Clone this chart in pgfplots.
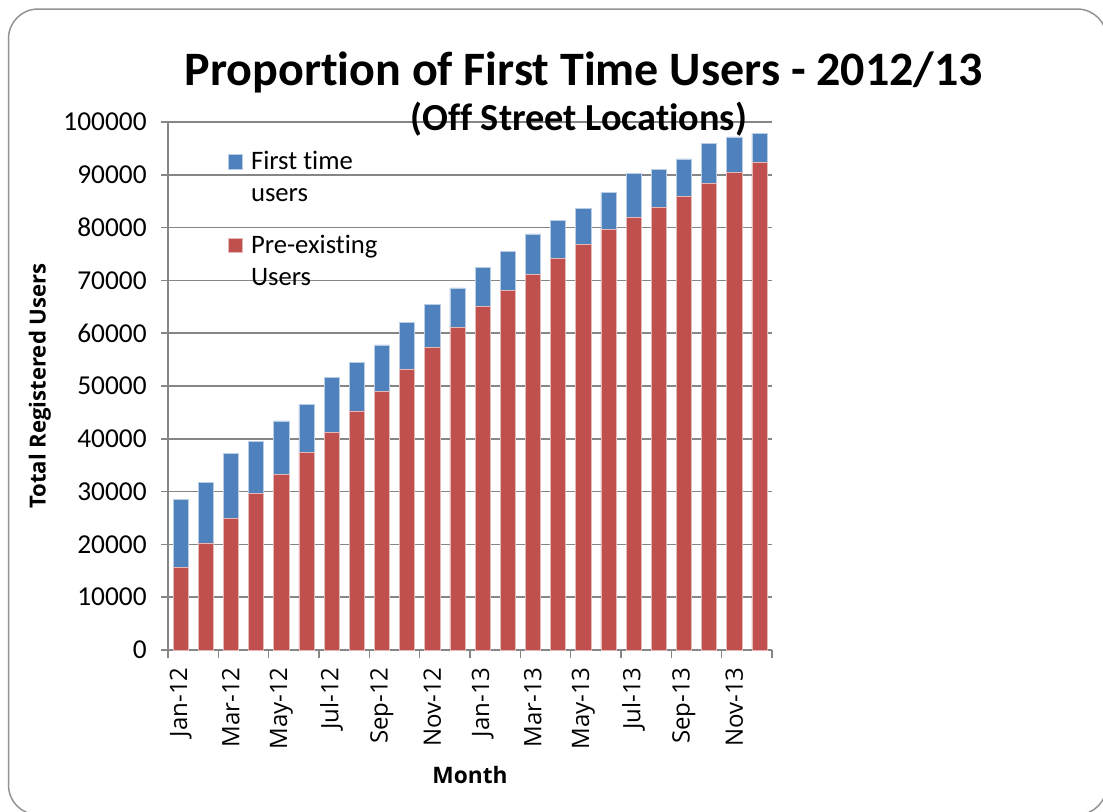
\documentclass[border=0pt]{standalone}
\usepackage{fontspec}
\setmainfont{Carlito}[Ligatures=CommonOff]
\newfontfamily\osans{Open Sans}
\usepackage{pgfplots}
\usepackage{pgfplotstable}
\pgfplotsset{compat=1.18}
\definecolor{fbblue}{HTML}{4F81BD}
\definecolor{fbred}{HTML}{C0504D}
\definecolor{gridgray}{HTML}{868686}

\pgfplotstableread{
x pre first
0 15600 12900
1 20300 11500
2 24900 12400
3 29700 9800
4 33200 10200
5 37400 9100
6 41200 10400
7 45300 9200
8 49000 8800
9 53200 8900
10 57300 8200
11 61100 7500
12 65100 7400
13 68100 7400
14 71200 7600
15 74100 7300
16 76800 6900
17 79700 6900
18 81900 8300
19 83800 7200
20 85900 7100
21 88400 7600
22 90500 6700
23 92300 5500
}\data

\begin{document}
\begin{tikzpicture}
\path[use as bounding box] (0,0) rectangle (827.25pt,-609pt);
\begin{scope}
\clip (0,0) rectangle (827.25pt,-609pt);
\draw[gridgray!90, line width=1.1pt, rounded corners=22pt] (6.4pt,-6.8pt) rectangle (830pt,-611pt);
\end{scope}
\begin{axis}[
  at={(126pt,-487.5pt)}, anchor=south west,
  scale only axis, width=453pt, height=396pt,
  ybar stacked, bar width=11.3pt,
  xmin=-0.5, xmax=23.5, ymin=0, ymax=100000,
  ytick={0,10000,20000,30000,40000,50000,60000,70000,80000,90000,100000},
  yticklabels={0,10000,20000,30000,40000,50000,60000,70000,80000,90000,100000},
  xtick={0,2,...,22},
  xticklabels={Jan-12,Mar-12,May-12,Jul-12,Sep-12,Nov-12,Jan-13,Mar-13,May-13,Jul-13,Sep-13,Nov-13},
  minor xtick={-0.5,1.5,...,23.5},
  tick align=outside,
  every major x tick/.style={draw=none},
  major tick length=5.5pt, minor tick length=6pt,
  axis x line*=bottom, axis y line*=left,
  axis line style={gridgray, line width=1.1pt, -},
  tick style={gridgray, line width=1.1pt},
  ymajorgrids, xminorgrids=false, grid style={gridgray, line width=1.1pt},
  scaled y ticks=false,
  yticklabel style={font=\fontsize{20.5}{24}\selectfont, xshift=-7pt},
  xticklabel style={font=\osans\fontsize{18}{20}\selectfont, rotate=90, anchor=east},
  xticklabel shift=4pt,
  ylabel={Total Registered Users},
  ylabel style={font=\osans\bfseries\fontsize{16.6}{20}\selectfont, at={(axis description cs:-0.212,0.5)}, anchor=center},
  xlabel={Month},
  xlabel style={font=\osans\bfseries\fontsize{17}{20}\selectfont, at={(axis description cs:0.5,-0.237)}, anchor=center},
  legend cell align=left,
  legend style={at={(axis description cs:0.092,0.955)}, anchor=north west, draw=none, fill=none,
    font=\fontsize{20}{24}\selectfont, nodes={align=left}, row sep=19.5pt, column sep=4pt},
  legend image code/.code={\fill[#1] (0pt,6.5pt) rectangle (11pt,17.5pt);},
  reverse legend,
]
\addplot[fill=fbred, draw=white!60!fbred, line width=0.4pt] table[x=x,y=pre]{\data};
\addplot[fill=fbblue, draw=white!60!fbblue, line width=0.4pt] table[x=x,y=first]{\data};
\legend{{Pre-existing\\Users}, {First time\\users}}
\end{axis}
\node[font=\bfseries\fontsize{36}{40}\selectfont, anchor=base] at (438pt,-64.5pt) {Proportion of First Time Users - 2012/13};
\node[font=\bfseries\fontsize{28.7}{32}\selectfont, anchor=base] at (434.25pt,-98.25pt) {(Off Street Locations)};
\end{tikzpicture}
\end{document}
